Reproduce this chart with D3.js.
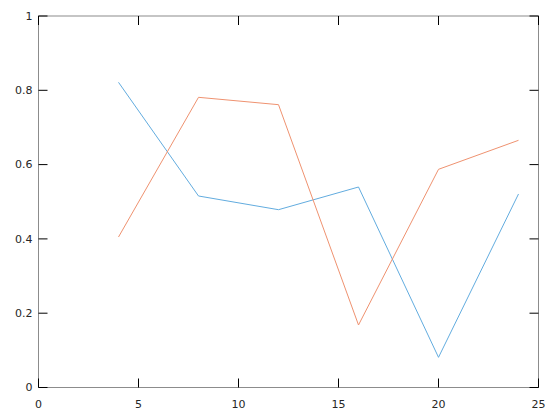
<!DOCTYPE html>
<html>
<head>
<meta charset="utf-8">
<script src="https://cdn.jsdelivr.net/npm/d3@7"></script>
<style>
body { margin: 0; background: #fff; }
text { font-family: "DejaVu Sans", sans-serif; font-size: 11px; fill: #262626; }
</style>
</head>
<body>
<div id="c"></div>
<script>
"use strict";

// sample positions and the two series
const xs = [4, 8, 12, 16, 20, 24]
const blueVals = [0.8215, 0.5155, 0.4786, 0.5397, 0.0812, 0.5209]
const orangeVals = [0.4051, 0.7811, 0.7613, 0.1682, 0.5873, 0.6654]

const xTicks = [0, 5, 10, 15, 20, 25]
const yTicks = [0, 0.2, 0.4, 0.6, 0.8, 1]

const width = 560, height = 420
const margin = {top: 16, right: 21.5, bottom: 32.5, left: 38.5}
const w = width - margin.left - margin.right
const h = height - margin.top - margin.bottom
const tickLen = 9

let svg = d3.select('#c').append('svg')
    .attr('width', width).attr('height', height)
let g = svg.append('g')
    .attr('transform', "translate(" + margin.left + "," + margin.top + ")")

let xScale = d3.scaleLinear().domain([0, 25]).range([0, w])
let yScale = d3.scaleLinear().domain([0, 1]).range([h, 0])

// series
const series = [
    {vals: blueVals, color: '#62acdf'},
    {vals: orangeVals, color: '#ef9270'}
]
series.forEach(s => {
    g.append('path')
        .datum(xs.map((x, i) => [x, s.vals[i]]))
        .attr('fill', 'none')
        .attr('stroke', s.color)
        .attr('stroke-width', 1)
        .attr('d', d3.line()
            .x(d => xScale(d[0]))
            .y(d => yScale(d[1])))
})

// box
g.append('rect')
    .attr('x', 0).attr('y', 0)
    .attr('width', w).attr('height', h)
    .attr('fill', 'none')
    .attr('stroke', '#8c8c8c')
    .attr('stroke-width', 1)

// ticks on all four sides, pointing inward
let ticks = g.append('g').attr('stroke', '#000').attr('stroke-width', 1)
xTicks.forEach(t => {
    const x = xScale(t)
    ticks.append('line').attr('x1', x).attr('x2', x).attr('y1', h).attr('y2', h - tickLen)
    ticks.append('line').attr('x1', x).attr('x2', x).attr('y1', 0).attr('y2', tickLen)
})
yTicks.forEach(t => {
    const y = yScale(t)
    ticks.append('line').attr('x1', 0).attr('x2', tickLen).attr('y1', y).attr('y2', y)
    ticks.append('line').attr('x1', w).attr('x2', w - tickLen).attr('y1', y).attr('y2', y)
})

// tick labels
g.append('g').selectAll('text')
    .data(xTicks).enter()
    .append('text')
    .attr('x', d => xScale(d))
    .attr('y', h + 17)
    .attr('dy', '0.35em')
    .attr('text-anchor', 'middle')
    .text(d => d)

g.append('g').selectAll('text')
    .data(yTicks).enter()
    .append('text')
    .attr('x', -6)
    .attr('y', d => yScale(d))
    .attr('dy', '0.35em')
    .attr('text-anchor', 'end')
    .text(d => d)
</script>
</body>
</html>
